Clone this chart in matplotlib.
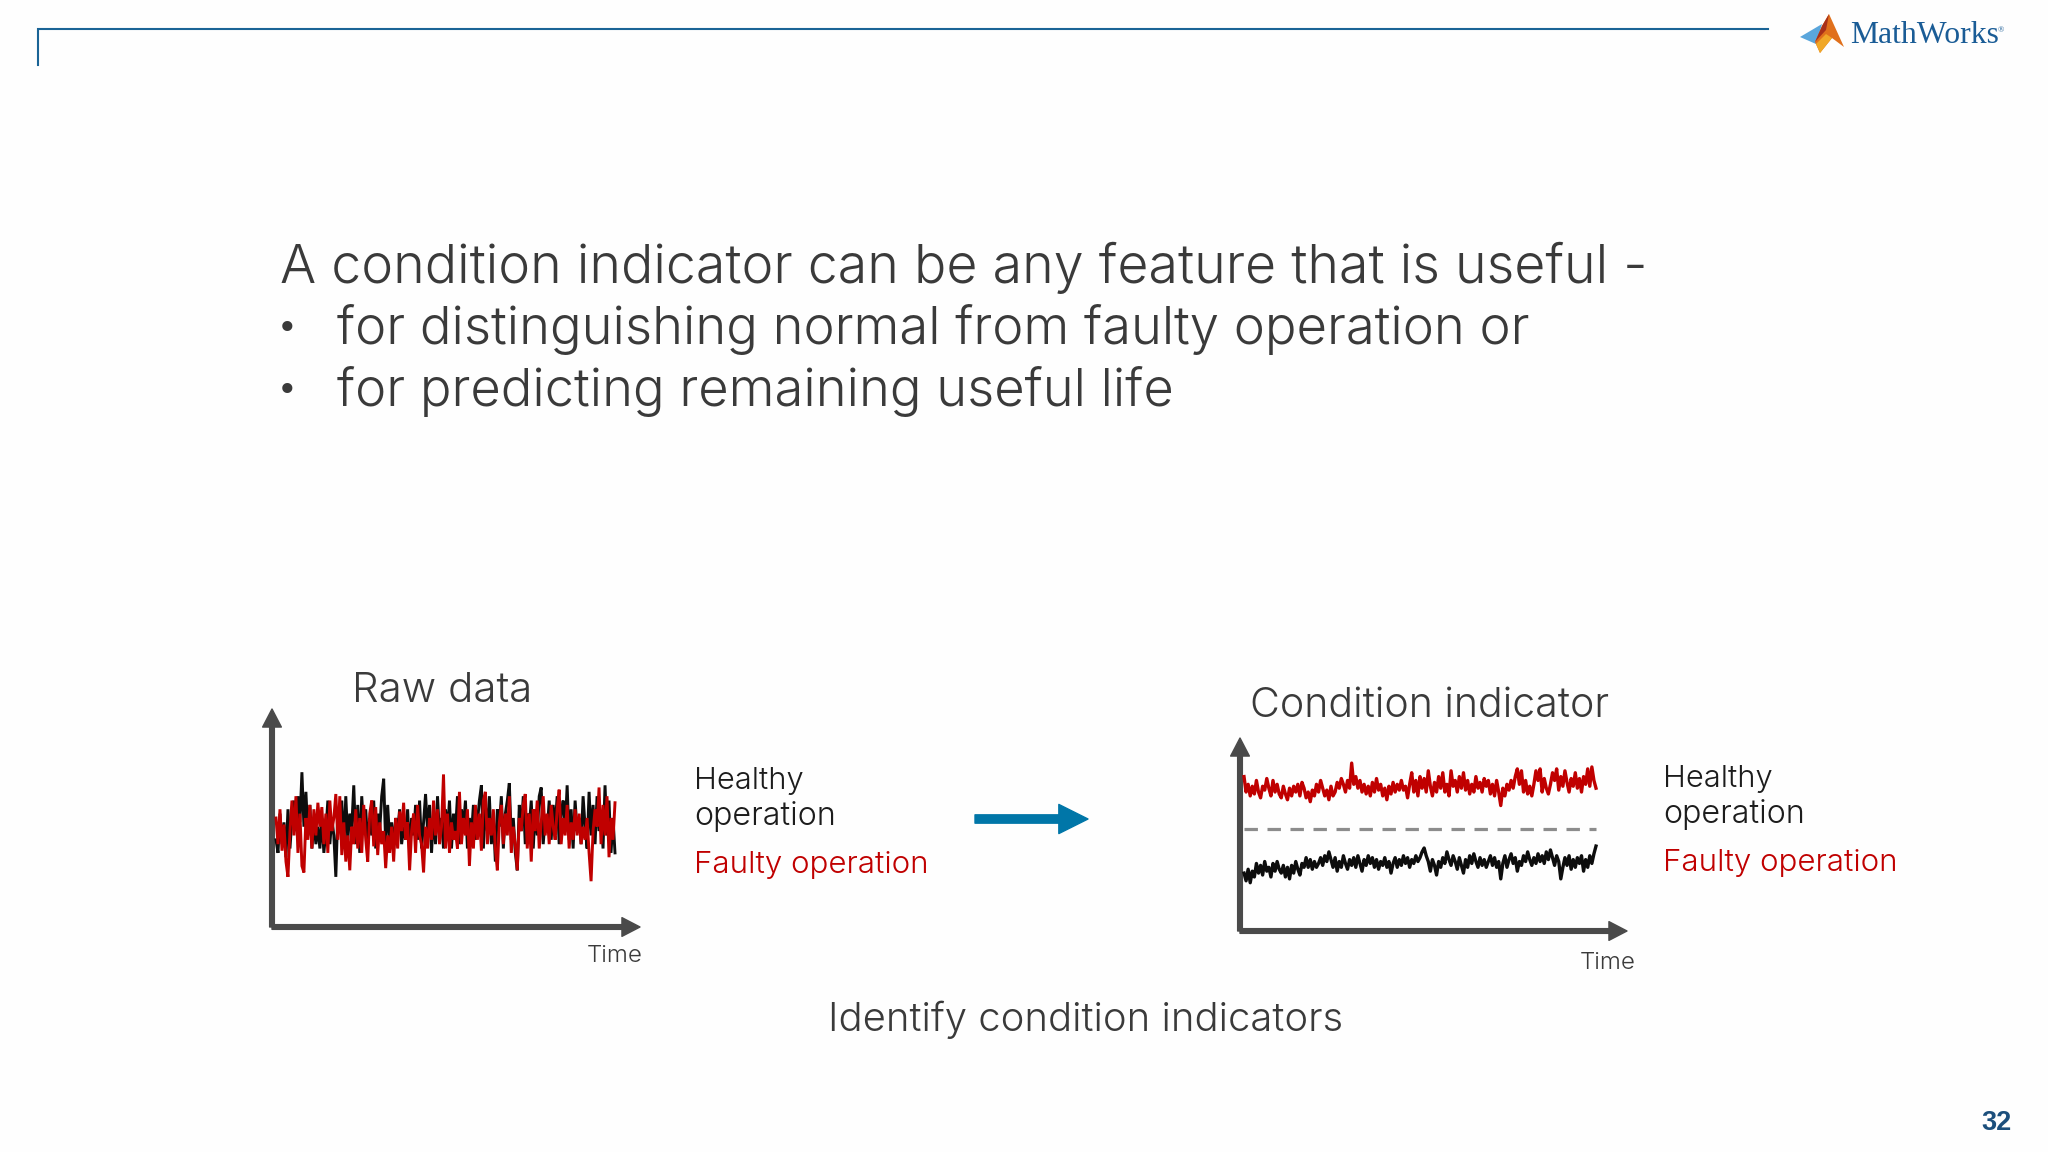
import numpy as np
import matplotlib
matplotlib.use("Agg")
import matplotlib.pyplot as plt
from matplotlib.patches import Polygon

# ---- text content
headline = "A condition indicator can be any feature that is useful -"
bullets = ["for distinguishing normal from faulty operation or",
           "for predicting remaining useful life"]
left_title = "Raw data"
right_title = "Condition indicator"
x_label = "Time"
legend_healthy = ["Healthy", "operation"]
legend_faulty = "Faulty operation"
caption = "Identify condition indicators"
page_number = "32"

# ---- series (axis height = 100)
raw_healthy = [
 40,34,52,38,48,32,54,36,50,58, 44,60,48,71,46,62,42,56,36,48,
 38,46,36,50,34,44,58,38,50,42, 23,52,44,58,36,60,40,52,46,65,
 38,56,34,60,44,54,38,50,42,58, 36,52,44,60,68,38,56,40,48,36,
 50,44,54,38,46,40,54,34,50,42, 56,40,58,36,48,61,44,56,34,52,
 38,60,42,50,36,54,44,58,36,52, 44,60,38,54,46,58,36,50,42,56,
 40,48,58,65,36,56,44,60,38,50, 30,54,46,60,36,52,58,66,40,50,
 34,26,56,44,60,38,52,46,58,36, 54,42,60,64,38,50,44,58,40,56,
 46,60,38,52,58,44,65,40,54,36, 58,44,50,38,60,46,36,62,42,56,
 38,60,44,52,36,65,42,58,34,50, 34]
raw_faulty = [
 50,38,54,35,47,30,23,44,58,42, 60,34,52,28,25,50,40,56,36,54,
 42,57,46,55,38,52,34,58,44,50, 61,40,60,33,48,30,42,26,46,38,
 54,36,50,34,56,40,30,52,58,37, 55,33,48,38,44,27,42,34,46,30,
 50,36,53,44,57,40,48,26,44,52, 34,56,42,38,25,46,36,50,40,58,
 42,54,38,46,70,36,52,34,48,40, 44,36,62,38,50,42,54,28,48,36,
 56,40,52,35,58,62,38,50,42,54, 36,26,48,56,38,52,42,60,34,46,
 38,26,50,44,56,61,36,52,30,54, 44,58,36,48,60,42,52,38,56,46,
 40,54,63,38,50,42,56,36,48,40, 54,42,52,38,46,40,50,34,21,44,
 54,46,64,38,56,42,60,32,50,40, 57]
ci_faulty = [
 80,72,76,70,75,71,78,72,69,75, 73,79,74,70,78,72,76,71,69,75,
 71,68,74,70,75,72,76,70,77,74, 69,72,67,73,70,76,72,78,74,70,
 73,68,75,70,72,77,74,79,76,72, 78,74,87,76,80,74,78,72,76,71,
 75,70,77,72,79,73,76,70,74,68, 75,71,77,72,76,73,78,73,75,69,
 76,82,72,78,70,80,74,79,72,83, 75,70,77,72,80,74,82,72,76,70,
 83,75,78,72,80,74,82,73,78,71, 76,72,80,74,77,72,79,75,78,71,
 76,70,78,72,65,74,70,76,73,78, 74,80,84,76,83,72,78,71,75,70,
 76,83,78,84,72,79,74,71,76,82, 78,84,73,80,75,83,77,72,79,75,
 82,74,79,72,80,76,84,75,85,78, 74]
ci_healthy = [
 30,26,32,25,31,28,35,30,34,29, 36,31,33,28,35,31,36,32,30,34,
 28,33,27,34,30,36,32,29,35,33, 38,33,37,32,36,33,35,38,34,39,
 36,41,37,33,38,31,36,33,39,35, 32,37,34,38,33,39,35,31,37,34,
 39,35,38,33,37,32,36,34,38,33, 36,30,35,38,33,37,34,39,35,38,
 33,37,35,39,36,38,41,43,39,36, 31,37,34,29,36,33,38,35,41,37,
 34,39,36,32,38,34,30,37,33,39, 35,40,36,33,38,34,37,33,36,39,
 34,38,33,36,27,35,39,33,37,40, 35,38,31,36,34,39,36,41,37,34,
 38,35,40,36,39,35,41,37,42,38, 34,39,36,27,33,38,34,39,32,37,
 33,38,35,39,31,37,33,39,35,40, 44]
threshold = [53, 53]

W, H = 2048, 1152
BG = "#fefefe"; INK = "#3a3a3a"; AXC = "#4a4a4a"; RED = "#c00000"; BLK = "#0d0d0d"
BLUE = "#1a6496"; ARROW = "#0076a8"
FONT = "Inter"

fig = plt.figure(figsize=(W/100, H/100), dpi=100, facecolor=BG)
page = fig.add_axes([0, 0, 1, 1], facecolor="none")
page.set_xlim(0, W); page.set_ylim(H, 0); page.axis("off")
rend = fig.canvas.get_renderer()

def fitted(s, x0, x1, y, va="baseline", color=INK, family=FONT, weight=300):
    t = page.text(x0, y, s, fontsize=20, family=family, weight=weight, color=color, va=va, ha="left")
    w = t.get_window_extent(rend).width
    t.set_fontsize(20*(x1-x0)/w)
    return t

# header rule
page.plot([38, 38, 1768], [65, 29, 29], color=BLUE, lw=1.5, solid_joinstyle="miter")

# logo
page.add_patch(Polygon([(1800,37),(1822,24),(1816,44)], fc="#5aa6dc", ec="none"))
page.add_patch(Polygon([(1829,14),(1844,47),(1832,38),(1820,53),(1815,42),(1822,26)], fc="#e0701c", ec="none"))
page.add_patch(Polygon([(1829,14),(1822,26),(1815,42),(1826,30)], fc="#a8301a", ec="none"))
page.add_patch(Polygon([(1826,34),(1832,38),(1820,53),(1816,44)], fc="#f0a828", ec="none"))
page.text(1850, 43, "MathWorks", family="Liberation Serif", fontsize=22.8, color="#1a5c96", va="baseline")
page.text(1998, 32, "®", family="Liberation Serif", fontsize=6, color="#1a5c96", va="baseline")

# main text
fitted(headline, 280, 1651, 283)
fitted(bullets[0], 337, 1533, 344)
fitted(bullets[1], 337, 1176, 406)
for y in (329, 391):
    page.text(287, y, "•", family="DejaVu Sans", fontsize=25, color=INK, ha="center", va="center")

def chart(x0, x1, ytop, ybot, xs0, xs1):
    ax = fig.add_axes([x0/W, 1-ybot/H, (x1-x0)/W, (ybot-ytop)/H], facecolor="none")
    ax.set_xlim(0, 1); ax.set_ylim(0, 100); ax.axis("off")
    for tip in ((1, 0), (0, 1)):
        ax.annotate("", xy=tip, xytext=(0, 0), xycoords="axes fraction", textcoords="axes fraction",
                    arrowprops=dict(width=3.4, headwidth=13.5, headlength=13, color=AXC, shrink=0), zorder=1)
    return ax, (xs0-x0)/(x1-x0), (xs1-x0)/(x1-x0)

# left chart
ax, a, b = chart(272, 640, 709, 927, 276, 615)
t = np.linspace(a, b, len(raw_healthy))
ax.plot(t, raw_healthy, color=BLK, lw=2.1, solid_joinstyle="miter", zorder=3)
ax.plot(t, raw_faulty, color=RED, lw=2.1, solid_joinstyle="miter", zorder=4)

# right chart
ax, a, b = chart(1240, 1627, 738, 931, 1244, 1596)
t = np.linspace(a, b, len(ci_faulty))
ax.plot(t, ci_faulty, color=RED, lw=2.4, zorder=3)
ax.plot(t, ci_healthy, color=BLK, lw=2.4, zorder=3)
ax.plot([a, b], threshold, color="#8c8c8c", lw=2.3, dashes=(4.2, 3.0), zorder=2)

# titles and labels
fitted(left_title, 352, 533, 702)
fitted(right_title, 1250, 1610, 717)
fitted(x_label, 587, 643, 962)
fitted(x_label, 1580, 1636, 969)
fitted(caption, 828, 1343, 1031)

for x, ys in ((694, (789, 825, 873)), (1663, (787, 823, 871))):
    fitted(legend_healthy[0], x, x+110, ys[0], color="#1c1c1c")
    fitted(legend_healthy[1], x, x+142, ys[1], color="#1c1c1c")
    fitted(legend_faulty, x, x+235, ys[2], color=RED)

# centre arrow
page.annotate("", xy=(1088, 819), xytext=(975, 819), xycoords="data", textcoords="data",
              arrowprops=dict(width=6, headwidth=21, headlength=21, color=ARROW, shrink=0))

page.text(2012, 1123, page_number, family="Liberation Sans", weight="bold", fontsize=19.5, color="#1c4f7c", ha="right", va="center")

fig.savefig("out.png", dpi=100, facecolor=BG)
